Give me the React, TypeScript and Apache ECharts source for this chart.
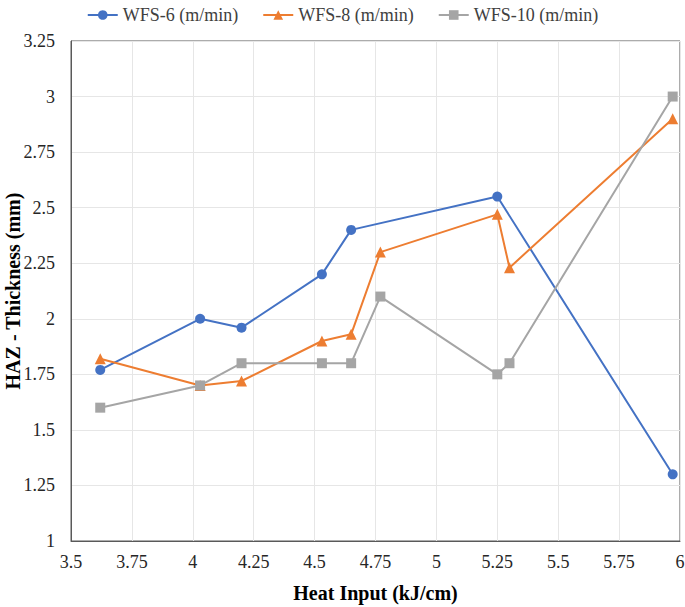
import React, { useEffect, useRef } from "react";
import * as echarts from "echarts";

const heatInput6 = [3.62, 4.03, 4.2, 4.53, 4.65, 5.25, 5.97];
const wfs6 = [1.77, 2.0, 1.96, 2.2, 2.4, 2.55, 1.3];

const heatInput8 = [3.62, 4.03, 4.2, 4.53, 4.65, 4.77, 5.25, 5.3, 5.97];
const wfs8 = [1.82, 1.7, 1.72, 1.9, 1.93, 2.3, 2.47, 2.23, 2.9];

const heatInput10 = [3.62, 4.03, 4.2, 4.53, 4.65, 4.77, 5.25, 5.3, 5.97];
const wfs10 = [1.6, 1.7, 1.8, 1.8, 1.8, 2.1, 1.75, 1.8, 3.0];

const seriesNames = ["WFS-6 (m/min)", "WFS-8 (m/min)", "WFS-10 (m/min)"];
const colors = ["#4472C4", "#ED7D31", "#A5A5A5"];

const FONT = "'Liberation Serif', 'DejaVu Serif', serif";

function zip(xs: number[], ys: number[]) {
  return xs.map((x, i) => [x, ys[i]]);
}

export default function App() {
  const ref = useRef<HTMLDivElement>(null);
  useEffect(() => {
    if (!ref.current) return;
    const chart = echarts.init(ref.current, undefined, { renderer: "svg" });
    const mk = (name: string, data: number[][], color: string, symbol: string, size: number) => ({
      name,
      type: "line",
      data,
      symbol,
      symbolSize: size,
      lineStyle: { color, width: 2 },
      itemStyle: { color },
    });
    chart.setOption({
      animation: false,
      backgroundColor: "#ffffff",
      textStyle: { fontFamily: FONT },
      legend: {
        top: 1,
        left: "center",
        itemWidth: 30,
        itemHeight: 12,
        itemGap: 24,
        textStyle: { fontFamily: FONT, fontSize: 18, fontWeight: 400, color: "#404040" },
        data: seriesNames,
      },
      grid: {
        left: 71,
        right: 5,
        top: 41,
        bottom: 66,
        show: true,
        borderColor: "#595959",
        borderWidth: 1,
        containLabel: false,
        outerBoundsMode: "none",
      },
      xAxis: {
        type: "value",
        min: 3.5,
        max: 6,
        interval: 0.25,
        name: "Heat Input (kJ/cm)",
        nameLocation: "middle",
        nameGap: 42,
        nameMoveOverlap: false,
        nameTextStyle: { fontFamily: FONT, fontSize: 20, fontWeight: "bold", color: "#000" },
        axisLine: { show: true, lineStyle: { color: "#595959" } },
        axisTick: { show: false },
        axisLabel: { fontFamily: FONT, fontSize: 18, fontWeight: 400, color: "#262626", margin: 12 },
        splitLine: { show: true, lineStyle: { color: "#E6E6E6", width: 1 } },
      },
      yAxis: {
        type: "value",
        min: 1,
        max: 3.25,
        interval: 0.25,
        name: "HAZ - Thickness (mm)",
        nameLocation: "middle",
        nameGap: 48,
        nameMoveOverlap: false,
        nameTextStyle: { fontFamily: FONT, fontSize: 20, fontWeight: "bold", color: "#000" },
        axisLine: { show: true, lineStyle: { color: "#595959" } },
        axisTick: { show: false },
        axisLabel: { fontFamily: FONT, fontSize: 18, fontWeight: 400, color: "#262626", margin: 16 },
        splitLine: { show: true, lineStyle: { color: "#E6E6E6", width: 1 } },
      },
      series: [
        mk(seriesNames[0], zip(heatInput6, wfs6), colors[0], "circle", 10),
        mk(seriesNames[1], zip(heatInput8, wfs8), colors[1], "triangle", 11),
        mk(seriesNames[2], zip(heatInput10, wfs10), colors[2], "rect", 10),
      ],
    });
    return () => chart.dispose();
  }, []);
  return <div ref={ref} style={{ width: 685, height: 607, position: "absolute", left: 0, top: 0 }} />;
}
